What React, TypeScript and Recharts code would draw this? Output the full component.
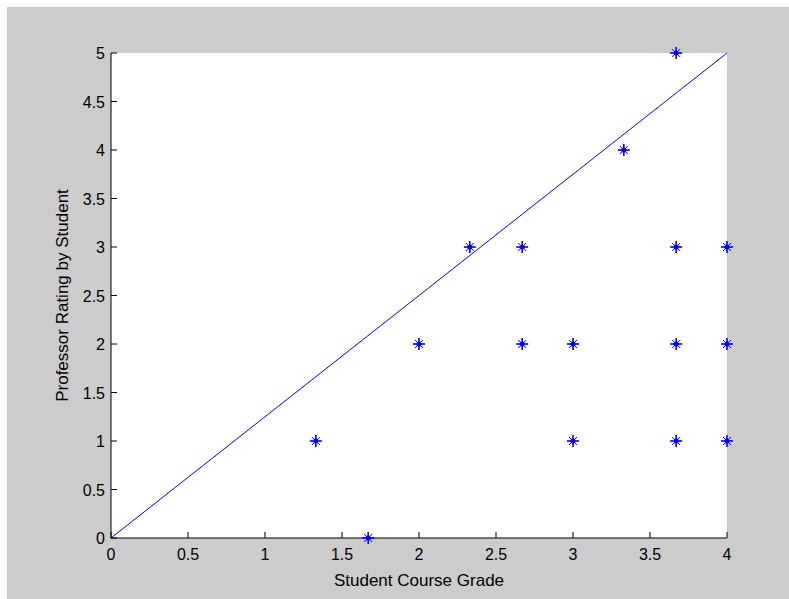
import { ScatterChart, Scatter, XAxis, YAxis, CartesianGrid } from "recharts";

// student course grade vs professor rating
const grades = [1.33, 1.67, 2, 2.33, 2.67, 2.67, 3, 3, 3.33, 3.67, 3.67, 3.67, 3.67, 4, 4, 4];
const ratings = [1, 0, 2, 3, 3, 2, 2, 1, 4, 5, 3, 2, 1, 3, 2, 1];

// reference line y = 1.25x
const fitX = [0, 4];
const fitY = [0, 5];

const xTicks = [0, 0.5, 1, 1.5, 2, 2.5, 3, 3.5, 4];
const yTicks = [0, 0.5, 1, 1.5, 2, 2.5, 3, 3.5, 4, 4.5, 5];

const points = grades.map((g, i) => ({ x: g, y: ratings[i] }));
const fitLine = fitX.map((x, i) => ({ x, y: fitY[i] }));

const FONT = '"Liberation Sans", Arial, Helvetica, sans-serif';
const TICK = 6;

const fmt = (v: number) => String(v);

function BottomTick({ x, y, payload }: any) {
  return (
    <g>
      <line x1={x} y1={y} x2={x} y2={y - TICK} stroke="#000" />
      <text x={x} y={y + 22} textAnchor="middle" fontSize={16} fontFamily={FONT} fill="#000">
        {fmt(payload.value)}
      </text>
    </g>
  );
}

function LeftTick({ x, y, payload }: any) {
  return (
    <g>
      <line x1={x} y1={y} x2={x + TICK} y2={y} stroke="#000" />
      <text x={x - 6} y={y + 6} textAnchor="end" fontSize={16} fontFamily={FONT} fill="#000">
        {fmt(payload.value)}
      </text>
    </g>
  );
}

function TopTick({ x, y }: any) {
  return <line x1={x} y1={y} x2={x} y2={y + TICK} stroke="#000" />;
}

function RightTick({ x, y }: any) {
  return <line x1={x} y1={y} x2={x - TICK} y2={y} stroke="#000" />;
}

function XLabel({ viewBox }: any) {
  const { x, y, width } = viewBox;
  return (
    <text x={x + width / 2} y={y + 48} textAnchor="middle" fontSize={17} fontFamily={FONT} fill="#000">
      Student Course Grade
    </text>
  );
}

function YLabel({ viewBox }: any) {
  const { y, height } = viewBox;
  const cx = 61;
  const cy = y + height / 2;
  return (
    <text
      x={cx}
      y={cy}
      transform={`rotate(-90 ${cx} ${cy})`}
      textAnchor="middle"
      fontSize={17}
      fontFamily={FONT}
      fill="#000"
    >
      Professor Rating by Student
    </text>
  );
}

function Asterisk({ cx, cy }: any) {
  if (cx == null || cy == null) return <g />;
  const a = 6;
  const d = 4;
  return (
    <g stroke="#0000ff">
      <line x1={cx - a} y1={cy} x2={cx + a} y2={cy} strokeWidth={1.6} />
      <line x1={cx} y1={cy - a} x2={cx} y2={cy + a} strokeWidth={1.6} />
      <line x1={cx - d} y1={cy - d} x2={cx + d} y2={cy + d} strokeWidth={1} />
      <line x1={cx - d} y1={cy + d} x2={cx + d} y2={cy - d} strokeWidth={1} />
      <circle cx={cx} cy={cy} r={2.5} fill="#0000ff" stroke="none" />
    </g>
  );
}

export default function App() {
  return (
    <div style={{ position: "absolute", left: 0, top: 0, width: 789, height: 599, background: "#fff" }}>
      <div style={{ position: "absolute", left: 7, top: 7, width: 782, height: 592, background: "#cccccc" }}>
        <ScatterChart width={782} height={592} margin={{ top: 46, right: 62, bottom: 0, left: 0 }}>
          <CartesianGrid fill="#fff" stroke="none" horizontal={false} vertical={false} />
          <XAxis
            type="number"
            dataKey="x"
            domain={[0, 4]}
            ticks={xTicks}
            interval={0}
            height={61}
            tickSize={0}
            tickMargin={0}
            tickLine={false}
            axisLine={{ stroke: "#000" }}
            tick={<BottomTick />}
            label={<XLabel />}
          />
          <XAxis
            xAxisId="top"
            orientation="top"
            type="number"
            domain={[0, 4]}
            ticks={xTicks}
            interval={0}
            height={0}
            tickSize={0}
            tickMargin={0}
            tickLine={false}
            axisLine={{ stroke: "#000" }}
            tick={<TopTick />}
          />
          <YAxis
            type="number"
            dataKey="y"
            domain={[0, 5]}
            ticks={yTicks}
            interval={0}
            width={104}
            tickSize={0}
            tickMargin={0}
            tickLine={false}
            axisLine={{ stroke: "#000" }}
            tick={<LeftTick />}
            label={<YLabel />}
          />
          <YAxis
            yAxisId="right"
            orientation="right"
            type="number"
            domain={[0, 5]}
            ticks={yTicks}
            interval={0}
            width={0}
            tickSize={0}
            tickMargin={0}
            tickLine={false}
            axisLine={{ stroke: "#000" }}
            tick={<RightTick />}
          />
          <Scatter
            data={fitLine}
            line={{ stroke: "#0000ff", strokeWidth: 1 }}
            shape={() => <g />}
            isAnimationActive={false}
          />
          <Scatter data={points} shape={<Asterisk />} isAnimationActive={false} />
        </ScatterChart>
      </div>
    </div>
  );
}
